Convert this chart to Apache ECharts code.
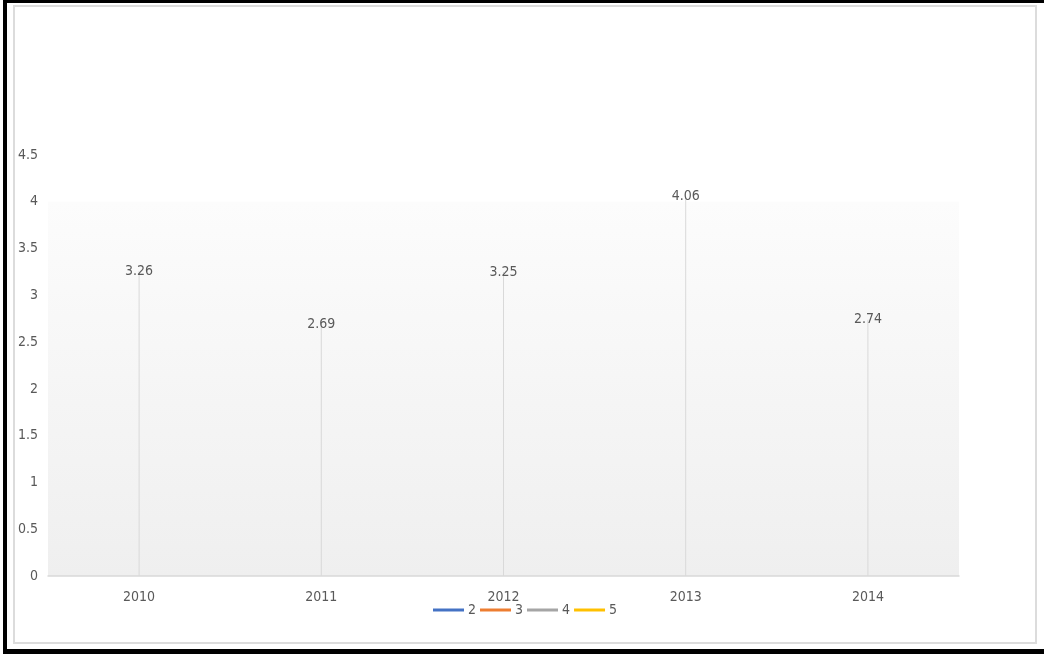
<!DOCTYPE html>
<html>
<head>
<meta charset="utf-8">
<script src="https://cdn.jsdelivr.net/npm/echarts@6/dist/echarts.min.js"></script>
<style>
html,body{margin:0;padding:0;background:#fff;}
#chart{width:1044px;height:654px;}
</style>
</head>
<body>
<div id="chart"></div>
<script>
var categories = ['2010', '2011', '2012', '2013', '2014'];
var values = [3.26, 2.69, 3.25, 4.06, 2.74];
var legendNames = ['2', '3', '4', '5'];
var legendColors = ['#4472C4', '#ED7D31', '#A5A5A5', '#FFC000'];
var yTicks = [0, 0.5, 1, 1.5, 2, 2.5, 3, 3.5, 4, 4.5];
var shadeTop = 4;

var FONT = '"Liberation Sans Narrow", "DejaVu Sans Condensed", sans-serif';
var TXT = '#595959';

var chart = echarts.init(document.getElementById('chart'), null, {renderer: 'canvas'});

var series = [{
  name: 'values',
  type: 'bar',
  data: values,
  barWidth: 1,
  itemStyle: {color: '#d9d9d9'},
  label: {
    show: true, position: 'top', distance: 0, offset: [0, 7],
    color: TXT, fontFamily: FONT, fontSize: 14,
    formatter: function (p) { return p.value.toFixed(2); }
  },
  markArea: {
    silent: true,
    itemStyle: {
      color: new echarts.graphic.LinearGradient(0, 0, 0, 1, [
        {offset: 0, color: '#fcfcfc'},
        {offset: 1, color: '#efefef'}
      ])
    },
    data: [[{yAxis: 0}, {yAxis: shadeTop}]]
  },
  z: 3
}];
legendNames.forEach(function (n, i) {
  series.push({
    name: n, type: 'line', data: [], color: legendColors[i],
    lineStyle: {color: legendColors[i], width: 3}, showSymbol: false
  });
});

chart.setOption({
  animation: false,
  backgroundColor: '#fff',
  grid: {left: 48, right: 85, top: 155, bottom: 78, containLabel: false},
  xAxis: {
    type: 'category', data: categories, boundaryGap: true,
    axisLine: {lineStyle: {color: '#d9d9d9', width: 1.5}},
    axisTick: {show: false},
    axisLabel: {color: TXT, fontFamily: FONT, fontSize: 14, margin: 14},
    z: 5
  },
  yAxis: {
    type: 'value', min: yTicks[0], max: yTicks[yTicks.length - 1], interval: yTicks[1] - yTicks[0],
    splitLine: {show: false},
    axisLine: {show: false}, axisTick: {show: false},
    axisLabel: {color: TXT, fontFamily: FONT, fontSize: 14, margin: 10}
  },
  legend: {
    data: legendNames,
    left: 433, top: 603,
    icon: 'rect', itemWidth: 31, itemHeight: 3, itemGap: 4,
    textStyle: {color: TXT, fontFamily: FONT, fontSize: 14, padding: [0, 0, 0, -1]},
    padding: 0
  },
  graphic: [
    {type: 'rect', shape: {x: 14, y: 6, width: 1022, height: 637}, style: {fill: 'none', stroke: '#dcdcdc', lineWidth: 2}, z: 100},
    {type: 'rect', shape: {x: 3, y: 0, width: 4, height: 654}, style: {fill: '#000'}, z: 101},
    {type: 'rect', shape: {x: 3, y: 0, width: 1041, height: 3}, style: {fill: '#000'}, z: 101},
    {type: 'rect', shape: {x: 3, y: 649, width: 1041, height: 5}, style: {fill: '#000'}, z: 101}
  ],
  series: series
});
</script>
</body>
</html>
